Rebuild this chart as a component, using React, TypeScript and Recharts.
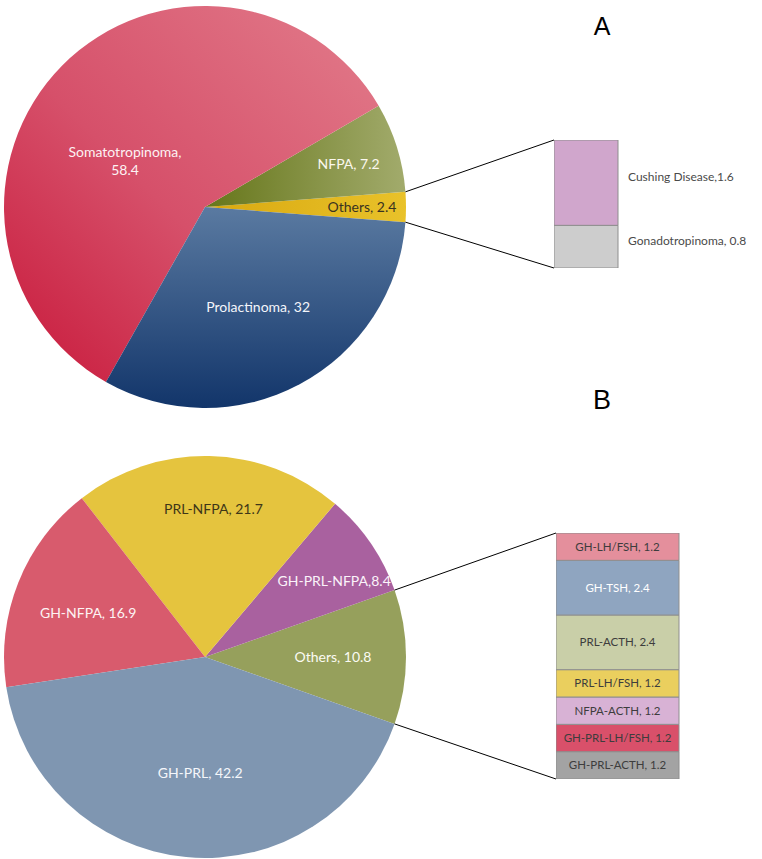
import React from "react";
import { PieChart, Pie, Cell, BarChart, Bar, XAxis, YAxis, LabelList } from "recharts";

// Panel A: adenoma types (%)
const typesA = ["Others", "NFPA", "Somatotropinoma", "Prolactinoma"];
const sharesA = [2.4, 7.2, 58.4, 32];
// "Others" of panel A, bottom to top
const othersA = ["Gonadotropinoma", "Cushing Disease"];
const othersAValues = [0.8, 1.6];

// Panel B: plurihormonal combinations (%)
const typesB = ["Others", "GH-PRL-NFPA", "PRL-NFPA", "GH-NFPA", "GH-PRL"];
const sharesB = [10.8, 8.4, 21.7, 16.9, 42.2];
// "Others" of panel B, bottom to top
const othersB = ["GH-PRL-ACTH", "GH-PRL-LH/FSH", "NFPA-ACTH", "PRL-LH/FSH", "PRL-ACTH", "GH-TSH", "GH-LH/FSH"];
const othersBValues = [1.2, 1.2, 1.2, 1.2, 2.4, 2.4, 1.2];

// labels written without a space after the comma
const tight = ["Cushing Disease", "GH-PRL-NFPA"];
const fmt = (name: string, v: number) => `${name},${tight.includes(name) ? "" : " "}${v}`;

const colorsA: Record<string, string> = {
  Others: "url(#gOthersA)",
  NFPA: "url(#gNfpa)",
  Somatotropinoma: "url(#gSomato)",
  Prolactinoma: "url(#gProl)",
};
const colorsB: Record<string, string> = {
  Others: "#96a05c",
  "GH-PRL-NFPA": "#a9619f",
  "PRL-NFPA": "#e5c43e",
  "GH-NFPA": "#d85b6d",
  "GH-PRL": "#7f96b1",
};
const barColorsA: Record<string, string> = {
  "Cushing Disease": "#d0a6cc",
  Gonadotropinoma: "#cdcdcd",
};
const barColorsB: Record<string, string> = {
  "GH-LH/FSH": "#e48f9c",
  "GH-TSH": "#8fa5c0",
  "PRL-ACTH": "#c9cfa8",
  "PRL-LH/FSH": "#eacf5e",
  "NFPA-ACTH": "#d8b2d5",
  "GH-PRL-LH/FSH": "#d9506a",
  "GH-PRL-ACTH": "#a3a3a3",
};

// label placement: radius from centre, angle nudge, colour
const spotsA: Record<string, any> = {
  Others: { r: 157, da: 0, fill: "#3a3320" },
  NFPA: { r: 150, da: -0.5, fill: "#fbf8ee" },
  Somatotropinoma: { r: 93, da: 14, fill: "#fdf2f3", wrap: true },
  Prolactinoma: { r: 113, da: 0, fill: "#f4f6fb" },
};
const spotsB: Record<string, any> = {
  Others: { r: 128, da: 0, fill: "#fbfbf3" },
  "GH-PRL-NFPA": { r: 150, da: -4, fill: "#fbf3fa" },
  "PRL-NFPA": { r: 148, da: -2, fill: "#3e3618" },
  "GH-NFPA": { r: 125, da: 1, fill: "#fdf3f4" },
  "GH-PRL": { r: 116, da: 3, fill: "#f5f7fb" },
};

const PIE_A = { cx: 205, cy: 207, r: 201 };
const PIE_B = { cx: 205, cy: 657, r: 201 };
const BAR_A = { x: 554, y: 140, w: 64, h: 128 };
const BAR_B = { x: 556, y: 533, w: 123, h: 246 };

const RAD = Math.PI / 180;
const pieFont = "Lato, 'Noto Sans', sans-serif";

const sum = (a: number[]) => a.reduce((s, v) => s + v, 0);

const makePieLabel = (spots: Record<string, any>) => (props: any) => {
  const { cx, cy, midAngle, value } = props;
  const name = props.payload?.name ?? props.name;
  const s = spots[name];
  const a = (midAngle + s.da) * RAD;
  const x = cx + s.r * Math.cos(a);
  const y = cy - s.r * Math.sin(a);
  if (s.wrap) {
    return (
      <text x={x} y={y} textAnchor="middle" fontSize={14} fontFamily={pieFont} fill={s.fill}>
        <tspan x={x} dy={-3}>{`${name},`}</tspan>
        <tspan x={x} dy={18}>{value}</tspan>
      </text>
    );
  }
  return (
    <text x={x} y={y} dy={5} textAnchor="middle" fontSize={14} fontFamily={pieFont} fill={s.fill}>
      {fmt(name, value)}
    </text>
  );
};

const edgePoint = (p: { cx: number; cy: number; r: number }, deg: number) => ({
  x: p.cx + p.r * Math.cos(deg * RAD),
  y: p.cy - p.r * Math.sin(deg * RAD),
});

const StackBar = ({
  names,
  values,
  colors,
  box,
  inside,
}: {
  names: string[];
  values: number[];
  colors: Record<string, string>;
  box: { x: number; y: number; w: number; h: number };
  inside: boolean;
}) => {
  const row: Record<string, any> = { k: "others" };
  names.forEach((n, i) => (row[n] = values[i]));
  const extra = inside ? 2 : 150;
  return (
    <div style={{ position: "absolute", left: box.x, top: box.y }}>
      <BarChart
        width={box.w + extra}
        height={box.h}
        data={[row]}
        margin={{ top: 0, right: extra, bottom: 0, left: 0 }}
        barCategoryGap={0}
        barGap={0}
      >
        <XAxis dataKey="k" hide />
        <YAxis hide domain={[0, sum(values)]} />
        {names.map((n, i) => (
          <Bar
            key={n}
            dataKey={n}
            stackId="s"
            fill={colors[n]}
            stroke="#8e8e8e"
            strokeWidth={1}
            isAnimationActive={false}
          >
            <LabelList
              dataKey={n}
              content={(p: any) => {
                const cyL = p.y + p.height / 2;
                if (inside) {
                  return (
                    <text
                      x={p.x + p.width / 2}
                      y={cyL}
                      dy={4}
                      textAnchor="middle"
                      fontSize={11.5}
                      fontFamily={pieFont}
                      fill={n === "GH-TSH" ? "#ffffff" : "#3d3d3d"}
                    >
                      {fmt(n, values[i])}
                    </text>
                  );
                }
                return (
                  <text
                    x={p.x + p.width + 10}
                    y={cyL}
                    dy={-2}
                    textAnchor="start"
                    fontSize={12}
                    fontFamily={pieFont}
                    fill="#4a4a4a"
                  >
                    {fmt(n, values[i])}
                  </text>
                );
              }}
            />
          </Bar>
        ))}
      </BarChart>
    </div>
  );
};

export default function App() {
  const dataA = typesA.map((name, i) => ({ name, value: sharesA[i] }));
  const dataB = typesB.map((name, i) => ({ name, value: sharesB[i] }));
  // the "Others" slice sits centred on the horizontal axis
  const startA = -(sharesA[0] / sum(sharesA)) * 180;
  const startB = -(sharesB[0] / sum(sharesB)) * 180;

  const aTop = edgePoint(PIE_A, -startA);
  const aBot = edgePoint(PIE_A, startA);
  const bTop = edgePoint(PIE_B, -startB);
  const bBot = edgePoint(PIE_B, startB);

  return (
    <div style={{ position: "absolute", left: 0, top: 0, width: 762, height: 859, background: "#fff" }}>
      <div style={{ position: "absolute", left: 0, top: 0 }}>
        <PieChart width={420} height={859} margin={{ top: 0, right: 0, bottom: 0, left: 0 }}>
          <defs>
            <linearGradient id="gSomato" x1="1" y1="0" x2="0" y2="1">
              <stop offset="0%" stopColor="#e27c8b" />
              <stop offset="55%" stopColor="#d6506a" />
              <stop offset="100%" stopColor="#c8183a" />
            </linearGradient>
            <linearGradient id="gProl" x1="0" y1="0" x2="0" y2="1">
              <stop offset="0%" stopColor="#5a7aa1" />
              <stop offset="100%" stopColor="#12356a" />
            </linearGradient>
            <linearGradient id="gNfpa" x1="0" y1="0" x2="1" y2="0">
              <stop offset="0%" stopColor="#66761a" />
              <stop offset="100%" stopColor="#a2ab6c" />
            </linearGradient>
            <linearGradient id="gOthersA" x1="0" y1="0" x2="1" y2="0">
              <stop offset="0%" stopColor="#d8a810" />
              <stop offset="100%" stopColor="#e9c22a" />
            </linearGradient>
          </defs>
          <Pie
            data={dataA}
            dataKey="value"
            nameKey="name"
            cx={PIE_A.cx}
            cy={PIE_A.cy}
            outerRadius={PIE_A.r}
            startAngle={startA}
            endAngle={startA + 360}
            stroke="none"
            labelLine={false}
            label={makePieLabel(spotsA)}
            isAnimationActive={false}
          >
            {dataA.map((d) => (
              <Cell key={d.name} fill={colorsA[d.name]} />
            ))}
          </Pie>
          <Pie
            data={dataB}
            dataKey="value"
            nameKey="name"
            cx={PIE_B.cx}
            cy={PIE_B.cy}
            outerRadius={PIE_B.r}
            startAngle={startB}
            endAngle={startB + 360}
            stroke="none"
            labelLine={false}
            label={makePieLabel(spotsB)}
            isAnimationActive={false}
          >
            {dataB.map((d) => (
              <Cell key={d.name} fill={colorsB[d.name]} />
            ))}
          </Pie>
        </PieChart>
      </div>

      <StackBar names={othersA} values={othersAValues} colors={barColorsA} box={BAR_A} inside={false} />
      <StackBar names={othersB} values={othersBValues} colors={barColorsB} box={BAR_B} inside={true} />

      <svg width={762} height={859} style={{ position: "absolute", left: 0, top: 0, pointerEvents: "none" }}>
        <line x1={aTop.x} y1={aTop.y} x2={BAR_A.x} y2={BAR_A.y} stroke="#000" strokeWidth={1} />
        <line x1={aBot.x} y1={aBot.y} x2={BAR_A.x} y2={BAR_A.y + BAR_A.h} stroke="#000" strokeWidth={1} />
        <line x1={bTop.x} y1={bTop.y} x2={BAR_B.x} y2={BAR_B.y} stroke="#000" strokeWidth={1} />
        <line x1={bBot.x} y1={bBot.y} x2={BAR_B.x} y2={BAR_B.y + BAR_B.h} stroke="#000" strokeWidth={1} />
        <text x={602} y={35} textAnchor="middle" fontSize={25} fontFamily="'Liberation Sans', Arial, sans-serif" fill="#000">
          A
        </text>
        <text x={602} y={409} textAnchor="middle" fontSize={27} fontFamily="'Liberation Sans', Arial, sans-serif" fill="#000">
          B
        </text>
      </svg>
    </div>
  );
}
